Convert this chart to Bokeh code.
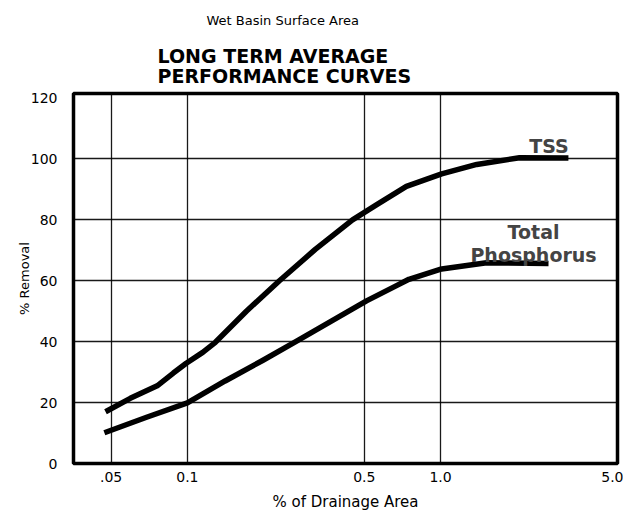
from bokeh.plotting import figure
from bokeh.models import Range1d, FixedTicker, CustomJSTickFormatter, Label, Title
from bokeh.embed import file_html
from bokeh.resources import INLINE

# ---- data ----
tss_x = [0.0475, 0.0595, 0.076, 0.088, 0.099, 0.115, 0.129, 0.171, 0.231, 0.320, 0.449, 0.56, 0.733, 1.01, 1.39, 2.05, 3.2]
tss_y = [17.0, 21.4, 25.5, 29.7, 32.9, 36.5, 39.8, 50.0, 60.0, 70.3, 80.0, 85.0, 91.0, 95.1, 98.2, 100.4, 100.3]

tp_x = [0.047, 0.069, 0.10, 0.141, 0.199, 0.268, 0.51, 0.67, 0.75, 1.01, 1.52, 2.67]
tp_y = [10.1, 15.2, 19.9, 27.1, 33.9, 40.0, 53.4, 58.4, 60.5, 63.9, 65.9, 65.7]

x_ticks = [0.05, 0.1, 0.5, 1.0, 5.0]
x_tick_labels = [".05", "0.1", "0.5", "1.0", "5.0"]
x_grid = [0.05, 0.1, 0.5, 1.0]
y_ticks = [0, 20, 40, 60, 80, 100, 120]
y_grid = [20, 40, 60, 80, 100]

FONT = "DejaVu Sans"

p = figure(frame_width=544, frame_height=370, x_axis_type="log",
           x_range=Range1d(0.0355, 5.0), y_range=Range1d(0, 121.5),
           output_backend="svg", toolbar_location=None,
           min_border_left=73, min_border_top=93, min_border_bottom=40, min_border_right=6)
p.title.visible = False
p.background_fill_color = "white"
p.border_fill_color = "white"
p.outline_line_color = "black"
p.outline_line_width = 3.5

# axes
p.xaxis.ticker = FixedTicker(ticks=x_ticks)
mapping = ",".join("'%s':'%s'" % (repr(float(t)) if t != int(t) else str(int(t)), l)
                   for t, l in zip(x_ticks, x_tick_labels))
p.xaxis.formatter = CustomJSTickFormatter(code="const m={%s}; const k=String(tick); return (k in m)? m[k] : '';" % mapping)
p.yaxis.ticker = FixedTicker(ticks=y_ticks)
for ax in (p.xaxis[0], p.yaxis[0]):
    ax.axis_line_color = None
    ax.major_tick_line_color = None
    ax.minor_tick_line_color = None
    ax.major_label_text_font = FONT
    ax.major_label_text_font_size = "14px"
    ax.major_label_text_color = "black"
    ax.axis_label_text_font = FONT
    ax.axis_label_text_font_style = "normal"
    ax.axis_label_text_color = "black"
p.xaxis.axis_label = "% of Drainage Area"
p.xaxis.axis_label_text_font_size = "15px"
p.xaxis.major_label_standoff = 2
p.xaxis.axis_label_standoff = 8
p.yaxis.axis_label = "% Removal"
p.yaxis.axis_label_text_font_size = "13px"
p.yaxis.major_label_standoff = 10
p.yaxis.axis_label_standoff = -4

# grid
p.xgrid.ticker = FixedTicker(ticks=x_grid)
p.ygrid.ticker = FixedTicker(ticks=y_grid)
for g in (p.xgrid[0], p.ygrid[0]):
    g.grid_line_color = "black"
    g.grid_line_width = 1.3
    g.grid_line_alpha = 0.9

# curves
p.line(tss_x, tss_y, line_color="black", line_width=5.5, line_cap="butt", line_join="round")
p.line(tp_x, tp_y, line_color="black", line_width=5.5, line_cap="butt", line_join="round")

# curve labels
p.add_layout(Label(x=2.68, y=104.4, text="TSS", text_font=FONT, text_font_style="bold",
                   text_font_size="19px", text_align="center", text_baseline="middle"))
p.add_layout(Label(x=2.33, y=76.0, text="Total", text_font=FONT, text_font_style="bold",
                   text_font_size="19px", text_align="center", text_baseline="middle"))
p.add_layout(Label(x=2.33, y=68.5, text="Phosphorus", text_font=FONT, text_font_style="bold",
                   text_font_size="19px", text_align="center", text_baseline="middle"))

# titles (first added is nearest to the plot)
p.add_layout(Title(text="LONG TERM AVERAGE\nPERFORMANCE CURVES", align="left", offset=84, standoff=12,
                   text_font=FONT, text_font_style="bold", text_font_size="19px",
                   text_line_height=0.95, text_color="black"), "above")
p.add_layout(Title(text="Wet Basin Surface Area", align="left", offset=133, standoff=18,
                   text_font=FONT, text_font_style="normal", text_font_size="13px",
                   text_color="black"), "above")

open("out.html", "w").write(file_html(p, INLINE))
